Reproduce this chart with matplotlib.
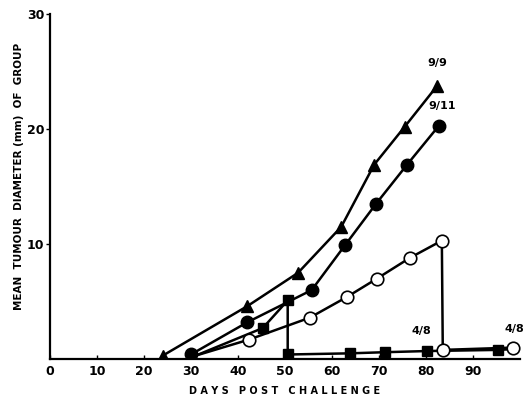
import matplotlib
matplotlib.use("Agg")
import matplotlib.pyplot as plt

# Mean tumour diameter (mm) vs days post challenge
tri_days = [24, 42, 52.8, 62, 69, 75.5, 82.3]
tri_diam = [0.3, 4.6, 7.5, 11.5, 16.9, 20.2, 23.7]

dot_days = [30, 42, 55.7, 62.8, 69.4, 76, 82.8]
dot_diam = [0.4, 3.2, 6.0, 9.9, 13.5, 16.9, 20.3]

open_days = [31, 42.4, 55.3, 63.2, 69.6, 76.6, 83.4, 83.6, 98.5]
open_diam = [0.3, 1.7, 3.6, 5.4, 7.0, 8.8, 10.3, 0.8, 1.0]

sq_days = [31, 45.3, 50.6, 50.6, 63.8, 71.3, 80.2, 95.4, 100]
sq_diam = [0.3, 2.7, 5.1, 0.4, 0.5, 0.6, 0.7, 0.8, 0.9]

# group labels (survivors/total)
labels = ["9/9", "9/11", "4/8", "4/8"]
label_pos = [(82.5, 25.3), (83.5, 21.6), (79.0, 2.0), (98.8, 2.2)]

fig = plt.figure(figsize=(5.31, 3.99), dpi=100)
ax = fig.add_axes([0.094, 0.100, 0.885, 0.865])

lw = 1.8
ax.plot(sq_days, sq_diam, color="black", lw=lw, marker="s", ms=7.5,
        markevery=[1, 2, 3, 4, 5, 6, 7], zorder=2)
ax.plot(open_days, open_diam, color="black", lw=lw, marker="o", ms=9,
        mfc="white", mec="black", mew=1.2, markevery=list(range(1, 9)), zorder=3)
ax.plot(dot_days, dot_diam, color="black", lw=lw, marker="o", ms=9, zorder=4)
ax.plot(tri_days, tri_diam, color="black", lw=lw, marker="^", ms=9, zorder=5)

for txt, (x, y) in zip(labels, label_pos):
    ax.text(x, y, txt, fontsize=8, fontweight="bold", ha="center", va="bottom")

ax.set_xlim(0, 100)
ax.set_ylim(0, 30)
ax.set_xticks(range(0, 100, 10))
ax.set_yticks([10, 20, 30])
ax.spines["top"].set_visible(False)
ax.spines["right"].set_visible(False)
ax.spines["left"].set_linewidth(1.6)
ax.spines["bottom"].set_linewidth(1.6)
ax.tick_params(axis="x", direction="in", length=3, width=1, labelsize=9, pad=4)
ax.tick_params(axis="y", direction="out", length=3, width=1, labelsize=9, pad=1)
for t in ax.get_xticklabels() + ax.get_yticklabels():
    t.set_fontweight("bold")

ax.set_xlabel("D A Y S   P O S T   C H A L L E N G E", fontsize=7, fontweight="bold", labelpad=6)
ax.set_ylabel("MEAN  TUMOUR  DIAMETER (mm)  OF  GROUP",
              fontsize=7.5, fontweight="bold")
ax.yaxis.set_label_coords(-0.055, 0.53)

fig.savefig("out.png", dpi=100)
